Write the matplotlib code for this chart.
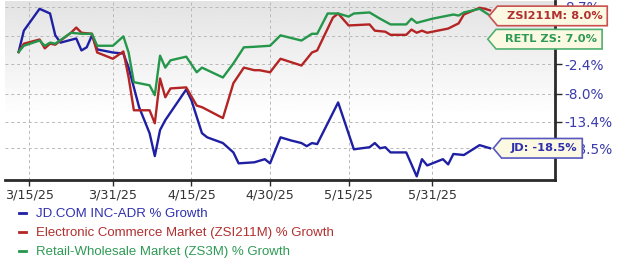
import matplotlib
matplotlib.use('Agg')
import matplotlib.pyplot as plt
import matplotlib.dates as mdates
from matplotlib.path import Path
from matplotlib.lines import Line2D
import numpy as np
import pandas as pd

# % growth since 3/13/25
jd_dates = ['2025-03-13', '2025-03-14', '2025-03-17', '2025-03-19', '2025-03-20', '2025-03-21',
            '2025-03-24', '2025-03-25', '2025-03-26', '2025-03-27', '2025-03-28', '2025-03-31',
            '2025-04-02', '2025-04-03', '2025-04-05', '2025-04-07', '2025-04-08', '2025-04-09',
            '2025-04-10', '2025-04-14', '2025-04-15', '2025-04-17', '2025-04-18', '2025-04-21',
            '2025-04-23', '2025-04-24', '2025-04-27', '2025-04-29', '2025-04-30', '2025-05-02',
            '2025-05-04', '2025-05-06', '2025-05-07', '2025-05-08', '2025-05-09', '2025-05-13',
            '2025-05-16', '2025-05-19', '2025-05-20', '2025-05-21', '2025-05-22', '2025-05-23',
            '2025-05-26', '2025-05-28', '2025-05-29', '2025-05-30', '2025-05-31', '2025-06-02',
            '2025-06-03', '2025-06-04', '2025-06-06', '2025-06-09', '2025-06-11']
jd_vals = [0.0, 4.1, 8.3, 7.4, 3.2, 1.8,
           2.6, 0.3, 0.9, 3.2, 0.5, -0.1,
           -0.3, -3.0, -10.6, -15.6, -20.0, -15.0,
           -13.1, -7.2, -9.3, -15.6, -16.4, -17.5,
           -19.3, -21.4, -21.2, -20.6, -21.4, -16.4,
           -17.0, -17.5, -18.1, -17.5, -17.7, -9.7,
           -18.7, -18.3, -17.5, -18.5, -18.3, -19.3,
           -19.3, -23.9, -20.6, -21.8, -21.4, -20.6,
           -21.6, -19.6, -19.8, -17.9, -18.5]

ec_dates = ['2025-03-13', '2025-03-14', '2025-03-17', '2025-03-18', '2025-03-19', '2025-03-20',
            '2025-03-21', '2025-03-23', '2025-03-24', '2025-03-25', '2025-03-27', '2025-03-28',
            '2025-03-31', '2025-04-02', '2025-04-03', '2025-04-04', '2025-04-07', '2025-04-08',
            '2025-04-09', '2025-04-10', '2025-04-11', '2025-04-14', '2025-04-16', '2025-04-17',
            '2025-04-21', '2025-04-23', '2025-04-25', '2025-04-27', '2025-04-28', '2025-04-30',
            '2025-05-02', '2025-05-06', '2025-05-08', '2025-05-09', '2025-05-12', '2025-05-13',
            '2025-05-15', '2025-05-19', '2025-05-20', '2025-05-22', '2025-05-23', '2025-05-26',
            '2025-05-27', '2025-05-28', '2025-05-29', '2025-05-30', '2025-06-03', '2025-06-05',
            '2025-06-06', '2025-06-09', '2025-06-10', '2025-06-11']
ec_vals = [0.0, 1.6, 2.4, 0.7, 1.6, 1.4,
           2.2, 3.7, 4.7, 3.7, 3.5, -0.1,
           -1.3, 0.1, -4.9, -11.2, -11.2, -13.7,
           -5.1, -8.7, -7.0, -6.8, -10.3, -10.6,
           -12.7, -6.0, -3.0, -3.5, -3.5, -3.9,
           -1.3, -2.6, -0.1, 0.3, 6.6, 7.4,
           5.1, 5.3, 4.1, 3.9, 3.3, 3.3,
           4.3, 3.7, 4.1, 3.7, 4.5, 5.5,
           7.2, 8.5, 8.3, 8.0]

rw_dates = ['2025-03-13', '2025-03-14', '2025-03-17', '2025-03-18', '2025-03-19', '2025-03-20',
            '2025-03-23', '2025-03-25', '2025-03-27', '2025-03-28', '2025-03-31', '2025-04-02',
            '2025-04-03', '2025-04-04', '2025-04-07', '2025-04-08', '2025-04-09', '2025-04-10',
            '2025-04-11', '2025-04-14', '2025-04-16', '2025-04-17', '2025-04-21', '2025-04-23',
            '2025-04-25', '2025-04-27', '2025-04-30', '2025-05-02', '2025-05-06', '2025-05-08',
            '2025-05-09', '2025-05-11', '2025-05-13', '2025-05-15', '2025-05-16', '2025-05-19',
            '2025-05-20', '2025-05-21', '2025-05-23', '2025-05-26', '2025-05-27', '2025-05-28',
            '2025-05-31', '2025-06-04', '2025-06-05', '2025-06-06', '2025-06-09', '2025-06-11']
rw_vals = [0.0, 1.2, 2.2, 1.2, 1.8, 1.6,
           3.7, 3.5, 3.5, 1.2, 1.2, 3.0,
           -0.1, -5.8, -6.4, -8.3, -0.7, -3.0,
           -1.6, -0.9, -3.9, -3.0, -4.9, -2.2,
           0.9, 1.0, 1.2, 3.2, 2.2, 3.5,
           3.5, 7.4, 7.4, 6.8, 7.4, 7.6,
           7.0, 6.4, 5.3, 5.3, 6.4, 5.6,
           6.4, 7.2, 7.0, 7.6, 8.3, 7.0]

series_names = ['JD.COM INC-ADR % Growth',
                'Electronic Commerce Market (ZSI211M) % Growth',
                'Retail-Wholesale Market (ZS3M) % Growth']
tag_names = ['JD', 'ZSI211M', 'RETL ZS']
line_colors = ['#1f1fa3', '#b42424', '#25974a']
text_colors = ['#2f2fb0', '#b03030', '#2f9a55']
edge_colors = ['#5858c0', '#c85050', '#50b070']

x_ticks = ['2025-03-15', '2025-03-31', '2025-04-15', '2025-04-30', '2025-05-15', '2025-05-31']
y_ticks = [8.7, 3.1, -2.4, -8.0, -13.4, -18.5]


def tag_box(x0, y0, width, height, mutation_size):
    pad = 0.42 * mutation_size
    x0, y0 = x0 - pad, y0 - pad
    w, h = width + 2 * pad, height + 2 * pad
    x0 -= 0.4 * mutation_size
    w += 0.4 * mutation_size
    tip = 0.42 * h
    verts = [(x0 - tip, y0 + h / 2), (x0, y0), (x0 + w, y0),
             (x0 + w, y0 + h), (x0, y0 + h), (x0 - tip, y0 + h / 2)]
    return Path(verts, closed=True)


fig = plt.figure(figsize=(6.2, 2.6), dpi=100)
ax = fig.add_axes([5 / 620, 80 / 260, 550 / 620, 179 / 260])

# faint grey-to-white background
grad = np.linspace(1.0, 0.0, 200).reshape(-1, 1)
grad = np.clip((grad - 0.35) / 0.65, 0, 1)
ax.imshow(1 - 0.11 * grad, cmap='gray', vmin=0, vmax=1, aspect='auto',
          extent=[0, 1, 0, 1], transform=ax.transAxes, zorder=0)

all_data = [(jd_dates, jd_vals), (ec_dates, ec_vals), (rw_dates, rw_vals)]
for (d, v), c in zip(all_data, line_colors):
    ax.plot(pd.to_datetime(d), v, color=c, lw=1.7, zorder=3, solid_joinstyle='round')

start = mdates.date2num(pd.Timestamp('2025-03-15'))
ax.set_xlim(start - 4.6, start + 100.4)
ax.set_ylim(-24.6, 9.8)

ax.set_xticks(pd.to_datetime(x_ticks))
ax.xaxis.set_major_formatter(mdates.DateFormatter('%-m/%d/%y'))
ax.set_yticks(y_ticks)
ax.set_yticklabels([f'{v:.1f}%' for v in y_ticks])
ax.yaxis.tick_right()

ax.grid(True, linestyle=(0, (3, 3)), color='#b8b8b8', lw=0.7)
for s in ['left', 'top']:
    ax.spines[s].set_visible(False)
for s in ['bottom', 'right']:
    ax.spines[s].set_linewidth(2)
    ax.spines[s].set_color('#2a2a2a')
ax.tick_params(axis='x', length=4, width=1, color='#2a2a2a', labelsize=9.2,
               labelcolor='#333333', pad=2)
ax.tick_params(axis='y', length=5, width=1, color='#2a2a2a', labelsize=9.8,
               labelcolor='#3b3bab', pad=2)

# end-of-line tags, drawn over the right-hand tick labels
offsets = [(15, 0), (12, -4), (11, -17)]
for i, ((d, v), name) in enumerate(zip(all_data, tag_names)):
    ax.annotate(f'{name}: {v[-1]:.1f}%', xy=(mdates.date2num(pd.to_datetime(d[-1])), v[-1]),
                xytext=offsets[i], textcoords='offset points', ha='left', va='center',
                fontsize=8.2, fontweight='bold', color=text_colors[i], zorder=6,
                annotation_clip=False,
                bbox=dict(boxstyle=tag_box, fc='#fbf9e2', ec=edge_colors[i], lw=1.2))

handles = [Line2D([], [], color=c, lw=2) for c in line_colors]
leg = fig.legend(handles, series_names, loc='upper left', bbox_to_anchor=(19 / 620, 1 - 208 / 260),
                 frameon=False, handlelength=0.55, handletextpad=0.75, labelspacing=0.52,
                 prop={'family': 'Liberation Sans', 'size': 9.5}, borderaxespad=0, borderpad=0)
for t, c in zip(leg.get_texts(), text_colors):
    t.set_color(c)

fig.savefig('out.png', dpi=100)
